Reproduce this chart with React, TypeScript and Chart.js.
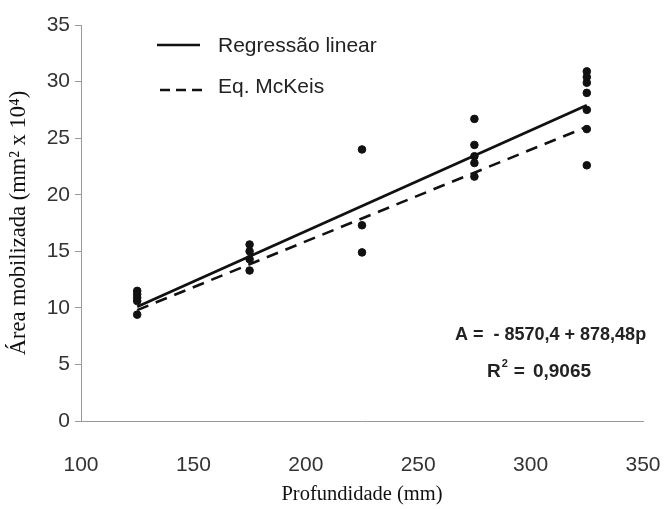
import React, { useEffect, useRef } from "react";
import { Chart, registerables } from "chart.js";

Chart.register(...registerables);

// ---- data ----
const pointDepth = [125, 125, 125, 125, 125, 175, 175, 175, 175, 225, 225, 225, 275, 275, 275, 275, 275, 325, 325, 325, 325, 325, 325, 325];
const pointArea = [11.5, 11.2, 10.9, 10.6, 9.4, 15.6, 15.0, 14.3, 13.3, 24.0, 17.3, 14.9, 26.7, 24.4, 23.4, 22.8, 21.6, 30.9, 30.4, 29.9, 29.0, 27.5, 25.8, 22.6];
const regressionDepth = [125, 325];
const regressionArea = [10.1, 27.9];
const mcKeisDepth = [125, 325];
const mcKeisArea = [9.8, 26.0];
const legendLabels = ["Regressão linear", "Eq. McKeis"];
const equationLine = "A =  - 8570,4 + 878,48p";
const r2Parts = ["R", "2", "=", "0,9065"];
const xTitle = "Profundidade (mm)";
const yTitle = "Área mobilizada (mm² x 10⁴)";
const xMin = 100, xMax = 350, xStep = 50;
const yMin = 0, yMax = 35, yStep = 5;

const SANS = "'Liberation Sans', Arial, sans-serif";
const SERIF = "'Liberation Serif', 'Times New Roman', serif";

const overlayPlugin = {
  id: "overlay",
  afterDraw(chart: any) {
    const ctx = chart.ctx;
    const a = chart.chartArea;
    ctx.save();
    // legend
    ctx.strokeStyle = "#111";
    ctx.lineWidth = 2.4;
    ctx.setLineDash([]);
    ctx.beginPath();
    ctx.moveTo(a.left + 76, a.top + 20);
    ctx.lineTo(a.left + 119, a.top + 20);
    ctx.stroke();
    ctx.setLineDash([10, 6]);
    ctx.beginPath();
    ctx.moveTo(a.left + 79, a.top + 65);
    ctx.lineTo(a.left + 121, a.top + 65);
    ctx.stroke();
    ctx.setLineDash([]);
    ctx.fillStyle = "#222";
    ctx.font = `21px ${SANS}`;
    ctx.textBaseline = "middle";
    ctx.textAlign = "left";
    ctx.fillText(legendLabels[0], a.left + 137, a.top + 21);
    ctx.fillText(legendLabels[1], a.left + 137, a.top + 62);
    // equation
    ctx.font = `bold 18px ${SANS}`;
    ctx.fillText(equationLine, a.left + 374, a.top + 310);
    let x = a.left + 406;
    const y = a.top + 347;
    ctx.font = `bold 19px ${SANS}`;
    ctx.fillText(r2Parts[0], x, y);
    x += ctx.measureText(r2Parts[0]).width;
    ctx.font = `bold 11px ${SANS}`;
    ctx.fillText(r2Parts[1], x + 1, y - 8);
    x += ctx.measureText(r2Parts[1]).width + 7;
    ctx.font = `bold 19px ${SANS}`;
    ctx.fillText(r2Parts[2], x, y);
    x += ctx.measureText(r2Parts[2]).width + 8;
    ctx.fillText(r2Parts[3], x, y);
    ctx.restore();
  },
};

export default function App() {
  const ref = useRef<HTMLCanvasElement | null>(null);
  useEffect(() => {
    if (!ref.current) return;
    const chart = new Chart(ref.current, {
      type: "scatter",
      data: {
        datasets: [
          {
            label: "Dados",
            data: pointDepth.map((x, i) => ({ x, y: pointArea[i] })),
            backgroundColor: "#111",
            borderColor: "#111",
            pointRadius: 3.8,
            showLine: false,
          },
          {
            label: legendLabels[0],
            data: regressionDepth.map((x, i) => ({ x, y: regressionArea[i] })),
            borderColor: "#111",
            borderWidth: 2.8,
            pointRadius: 0,
            showLine: true,
          },
          {
            label: legendLabels[1],
            data: mcKeisDepth.map((x, i) => ({ x, y: mcKeisArea[i] })),
            borderColor: "#111",
            borderWidth: 2.6,
            borderDash: [12, 8],
            pointRadius: 0,
            showLine: true,
          },
        ],
      },
      options: {
        responsive: false,
        animation: false,
        layout: { padding: { top: 25, right: 26, left: 0, bottom: 0 } },
        plugins: { legend: { display: false }, tooltip: { enabled: false } },
        scales: {
          x: {
            type: "linear",
            min: xMin,
            max: xMax,
            ticks: { stepSize: xStep, color: "#333", font: { family: SANS, size: 21 }, padding: 32 },
            grid: { drawOnChartArea: false, drawTicks: false },
            border: { display: true, color: "#999", width: 1 },
            title: { display: true, text: xTitle, color: "#111", font: { family: SERIF, size: 20.5 }, padding: { top: 0, bottom: 2 } },
            afterFit(scale: any) {
              scale.height = 88;
              scale.paddingLeft = 0;
              scale.paddingRight = 0;
            },
          },
          y: {
            min: yMin,
            max: yMax,
            ticks: { stepSize: yStep, color: "#333", font: { family: SANS, size: 21 }, padding: 5 },
            grid: { drawOnChartArea: false, drawTicks: true, tickLength: 6, color: "#999" },
            border: { display: true, color: "#999", width: 1 },
            title: { display: true, text: yTitle, color: "#111", font: { family: SERIF, size: 22.5 }, padding: { top: 6, bottom: 0 } },
            afterFit(scale: any) {
              scale.width = 81;
              scale.paddingTop = 0;
              scale.paddingBottom = 0;
            },
          },
        },
      },
      plugins: [overlayPlugin],
    });
    return () => chart.destroy();
  }, []);
  return (
    <div style={{ position: "fixed", left: 0, top: 0, width: 669, height: 509, background: "#fff" }}>
      <canvas ref={ref} width={669} height={509} style={{ width: 669, height: 509, display: "block" }} />
    </div>
  );
}
